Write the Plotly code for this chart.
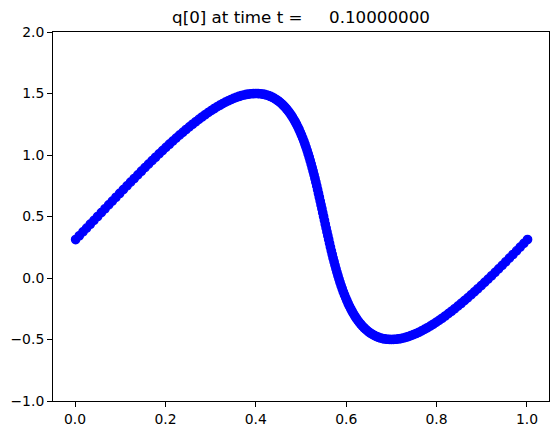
import plotly.graph_objects as go

x_vals = [
    0.0013, 0.0094, 0.0175, 0.0256, 0.0337, 0.0419, 0.0500, 0.0581, 0.0663, 0.0744,
    0.0825, 0.0906, 0.0987, 0.1068, 0.1149, 0.1229, 0.1309, 0.1389, 0.1468, 0.1547,
    0.1626, 0.1704, 0.1782, 0.1859, 0.1936, 0.2012, 0.2088, 0.2163, 0.2237, 0.2311,
    0.2385, 0.2457, 0.2529, 0.2600, 0.2671, 0.2740, 0.2809, 0.2877, 0.2944, 0.3011,
    0.3076, 0.3141, 0.3205, 0.3268, 0.3330, 0.3391, 0.3451, 0.3510, 0.3569, 0.3626,
    0.3682, 0.3738, 0.3792, 0.3846, 0.3898, 0.3950, 0.4000, 0.4050, 0.4098, 0.4146,
    0.4192, 0.4238, 0.4282, 0.4326, 0.4369, 0.4410, 0.4451, 0.4491, 0.4530, 0.4568,
    0.4605, 0.4641, 0.4676, 0.4711, 0.4744, 0.4777, 0.4809, 0.4840, 0.4871, 0.4900,
    0.4929, 0.4957, 0.4985, 0.5011, 0.5037, 0.5063, 0.5088, 0.5112, 0.5136, 0.5159,
    0.5182, 0.5204, 0.5226, 0.5247, 0.5268, 0.5289, 0.5309, 0.5329, 0.5349, 0.5368,
    0.5387, 0.5406, 0.5425, 0.5444, 0.5463, 0.5481, 0.5500, 0.5519, 0.5537, 0.5556,
    0.5575, 0.5594, 0.5613, 0.5632, 0.5651, 0.5671, 0.5691, 0.5711, 0.5732, 0.5753,
    0.5774, 0.5796, 0.5818, 0.5841, 0.5864, 0.5888, 0.5912, 0.5937, 0.5963, 0.5989,
    0.6016, 0.6043, 0.6071, 0.6100, 0.6130, 0.6160, 0.6191, 0.6223, 0.6256, 0.6289,
    0.6324, 0.6359, 0.6395, 0.6432, 0.6470, 0.6509, 0.6549, 0.6590, 0.6631, 0.6674,
    0.6718, 0.6762, 0.6808, 0.6854, 0.6902, 0.6951, 0.7000, 0.7051, 0.7102, 0.7154,
    0.7208, 0.7262, 0.7318, 0.7374, 0.7431, 0.7490, 0.7549, 0.7609, 0.7670, 0.7732,
    0.7795, 0.7859, 0.7924, 0.7989, 0.8056, 0.8123, 0.8191, 0.8260, 0.8330, 0.8400,
    0.8471, 0.8543, 0.8616, 0.8689, 0.8763, 0.8837, 0.8912, 0.8988, 0.9064, 0.9141,
    0.9218, 0.9296, 0.9374, 0.9453, 0.9532, 0.9611, 0.9691, 0.9771, 0.9851, 0.9932,
    1.0013,
]

q_vals = [
    0.3126, 0.3436, 0.3747, 0.4059, 0.4372, 0.4686, 0.5000, 0.5314, 0.5628, 0.5941,
    0.6253, 0.6564, 0.6874, 0.7181, 0.7487, 0.7790, 0.8090, 0.8387, 0.8681, 0.8971,
    0.9258, 0.9540, 0.9818, 1.0090, 1.0358, 1.0621, 1.0878, 1.1129, 1.1374, 1.1613,
    1.1845, 1.2071, 1.2290, 1.2501, 1.2705, 1.2902, 1.3090, 1.3271, 1.3443, 1.3607,
    1.3763, 1.3910, 1.4048, 1.4178, 1.4298, 1.4409, 1.4511, 1.4603, 1.4686, 1.4759,
    1.4823, 1.4877, 1.4921, 1.4956, 1.4980, 1.4995, 1.5000, 1.4995, 1.4980, 1.4956,
    1.4921, 1.4877, 1.4823, 1.4759, 1.4686, 1.4603, 1.4511, 1.4409, 1.4298, 1.4178,
    1.4048, 1.3910, 1.3763, 1.3607, 1.3443, 1.3271, 1.3090, 1.2902, 1.2705, 1.2501,
    1.2290, 1.2071, 1.1845, 1.1613, 1.1374, 1.1129, 1.0878, 1.0621, 1.0358, 1.0090,
    0.9818, 0.9540, 0.9258, 0.8971, 0.8681, 0.8387, 0.8090, 0.7790, 0.7487, 0.7181,
    0.6874, 0.6564, 0.6253, 0.5941, 0.5628, 0.5314, 0.5000, 0.4686, 0.4372, 0.4059,
    0.3747, 0.3436, 0.3126, 0.2819, 0.2513, 0.2210, 0.1910, 0.1613, 0.1319, 0.1029,
    0.0742, 0.0460, 0.0182, -0.0090, -0.0358, -0.0621, -0.0878, -0.1129, -0.1374, -0.1613,
    -0.1845, -0.2071, -0.2290, -0.2501, -0.2705, -0.2902, -0.3090, -0.3271, -0.3443, -0.3607,
    -0.3763, -0.3910, -0.4048, -0.4178, -0.4298, -0.4409, -0.4511, -0.4603, -0.4686, -0.4759,
    -0.4823, -0.4877, -0.4921, -0.4956, -0.4980, -0.4995, -0.5000, -0.4995, -0.4980, -0.4956,
    -0.4921, -0.4877, -0.4823, -0.4759, -0.4686, -0.4603, -0.4511, -0.4409, -0.4298, -0.4178,
    -0.4048, -0.3910, -0.3763, -0.3607, -0.3443, -0.3271, -0.3090, -0.2902, -0.2705, -0.2501,
    -0.2290, -0.2071, -0.1845, -0.1613, -0.1374, -0.1129, -0.0878, -0.0621, -0.0358, -0.0090,
    0.0182, 0.0460, 0.0742, 0.1029, 0.1319, 0.1613, 0.1910, 0.2210, 0.2513, 0.2819,
    0.3126,
]

x_ticks = [0.0, 0.2, 0.4, 0.6, 0.8, 1.0]
x_tick_labels = ["0.0", "0.2", "0.4", "0.6", "0.8", "1.0"]
y_ticks = [-1.0, -0.5, 0.0, 0.5, 1.0, 1.5, 2.0]
y_tick_labels = ["\u22121.0", "\u22120.5", "0.0", "0.5", "1.0", "1.5", "2.0"]

title_text = "q[0] at time t =\u00a0\u00a0\u00a0\u00a0\u00a00.10000000"

fig = go.Figure()
fig.add_trace(go.Scatter(
    x=x_vals, y=q_vals, mode="markers",
    marker=dict(color="#0000ff", size=8.3, line=dict(color="#0000ff", width=1.4)),
    showlegend=False, hoverinfo="skip",
))

axis_common = dict(
    showgrid=False, zeroline=False, showline=True, linecolor="black", linewidth=1,
    mirror=True, ticks="outside", ticklen=5, tickwidth=1, tickcolor="black",
    automargin=False,
    tickfont=dict(family="DejaVu Sans", size=13.9, color="black"),
)

fig.update_layout(
    width=559, height=435,
    margin=dict(l=53, r=10, t=32, b=34, autoexpand=False),
    paper_bgcolor="white", plot_bgcolor="white",
    font=dict(family="DejaVu Sans", color="black"),
    title=dict(text=title_text, x=(53 + 549) / 2 / 559, xanchor="center",
               y=1 - 17 / 435, yanchor="middle", yref="container", automargin=False,
               font=dict(family="DejaVu Sans", size=16.7, color="black")),
    xaxis=dict(range=[-0.0488, 1.0488], tickvals=x_ticks, ticktext=x_tick_labels, **axis_common),
    yaxis=dict(range=[-1.0, 2.0], tickvals=y_ticks, ticktext=y_tick_labels, **axis_common),
)

fig.write_html(
    "out.html",
    config={"displayModeBar": False, "staticPlot": True},
    post_script="document.body.style.margin='0px';document.body.style.overflow='hidden';",
)
